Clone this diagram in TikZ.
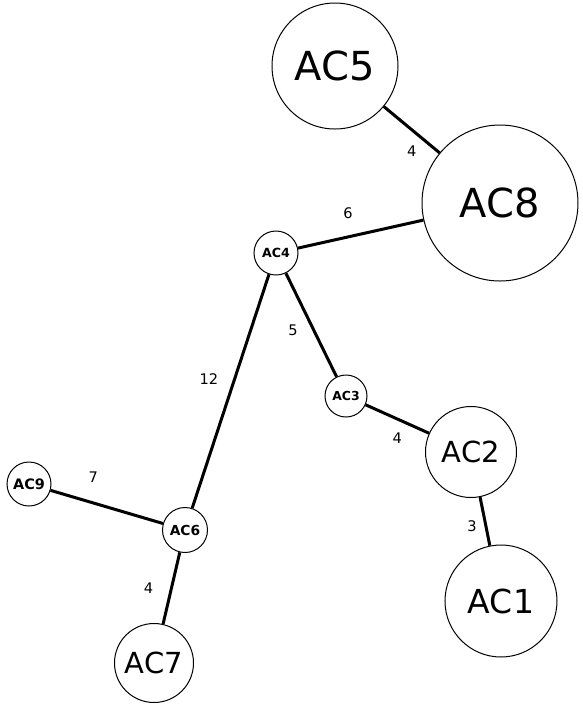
\documentclass[tikz,border=0pt]{standalone}
\usepackage{fontspec}
\setmainfont{DejaVu Sans}

\begin{document}
\begin{tikzpicture}[x=0.5pt, y=-0.5pt,
    nodo/.style={circle, draw, line width=0.5pt, inner sep=0pt},
    chico/.style={nodo, font=\fontsize{#1}{9}\selectfont\bfseries},
    arista/.style={line width=1.5pt},
    peso/.style={font=\fontsize{7.3}{8}\selectfont}]

    \useasboundingbox (0,0) rectangle (583,709);

    % Nodos grandes
    \node[nodo, minimum size=63pt, font=\fontsize{20}{24}\selectfont] (AC5) at (335,66) {AC5};
    \node[nodo, minimum size=78pt, font=\fontsize{20}{24}\selectfont] (AC8) at (500,203) {AC8};
    \node[nodo, minimum size=45.5pt, font=\fontsize{14.5}{17}\selectfont] (AC2) at (471,452) {AC2};
    \node[nodo, minimum size=56pt, font=\fontsize{16.5}{20}\selectfont] (AC1) at (501,601) {AC1};
    \node[nodo, minimum size=39.5pt, font=\fontsize{14.5}{17}\selectfont] (AC7) at (154,663) {AC7};

    % Nodos chicos
    \node[chico=6.3, minimum size=22pt] (AC4) at (276,253) {AC4};
    \node[chico=6.2, minimum size=21pt] (AC3) at (346,396) {AC3};
    \node[chico=7.2, minimum size=22pt] (AC9) at (29,484) {AC9};
    \node[chico=6.9, minimum size=22.5pt] (AC6) at (185,530) {AC6};

    % Aristas con pesos
    \draw[arista] (AC5) -- (AC8) node[peso, midway, below=4pt] {4};
    \draw[arista] (AC4) -- (AC8) node[peso, pos=0.4, above=5pt] {6};
    \draw[arista] (AC4) -- (AC3) node[peso, pos=0.55, left=4pt] {5};
    \draw[arista] (AC4) -- (AC6) node[peso, pos=0.45, left=4pt] {12};
    \draw[arista] (AC3) -- (AC2) node[peso, midway, below=3pt] {4};
    \draw[arista] (AC2) -- (AC1) node[peso, pos=0.6, left=0.5pt] {3};
    \draw[arista] (AC9) -- (AC6) node[peso, pos=0.38, above=6pt] {7};
    \draw[arista] (AC6) -- (AC7) node[peso, midway, left=5pt] {4};

\end{tikzpicture}
\end{document}
